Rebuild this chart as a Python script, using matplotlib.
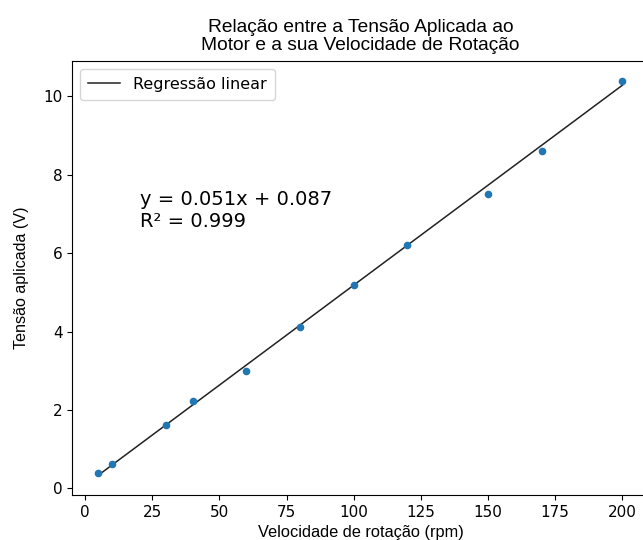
import matplotlib
matplotlib.use("Agg")
import matplotlib.pyplot as plt
import numpy as np

# Data
velocidade = [5, 10, 30, 40, 60, 80, 100, 120, 150, 170, 200]
tensao = [0.39, 0.63, 1.63, 2.22, 3.0, 4.12, 5.2, 6.22, 7.51, 8.6, 10.4]
slope = 0.051
intercept = 0.087
r2 = 0.999

title = "Relação entre a Tensão Aplicada ao\nMotor e a sua Velocidade de Rotação"
xlabel = "Velocidade de rotação (rpm)"
ylabel = "Tensão aplicada (V)"

fig = plt.figure(figsize=(6.43, 5.4), dpi=100)
ax = fig.add_axes([0.1124, 0.0837, 0.8963, 0.8032])

x = np.array(velocidade, dtype=float)
ax.scatter(velocidade, tensao, s=20, color="#1f77b4", zorder=3)
ax.plot(x, slope * x + intercept, color="#222222", lw=1.1, label="Regressão linear")

ax.text(20.5, 6.68, f"y = {slope}x + {intercept}\nR² = {r2}", fontsize=14,
        va="baseline", ha="left", family="DejaVu Sans", linespacing=1.15)

ax.set_title(title, fontsize=13.8, family="Liberation Sans", pad=8, linespacing=1.05)
ax.set_xlabel(xlabel, fontsize=11.8, family="Liberation Sans")
ax.set_ylabel(ylabel, fontsize=11.6, family="Liberation Sans", labelpad=10)
ax.tick_params(labelsize=11)
ax.set_xticks([0, 25, 50, 75, 100, 125, 150, 175, 200])
ax.set_yticks([0, 2, 4, 6, 8, 10])
ax.legend(loc="upper left", fontsize=11.5, borderpad=0.5)

fig.savefig("out.png", dpi=100)
